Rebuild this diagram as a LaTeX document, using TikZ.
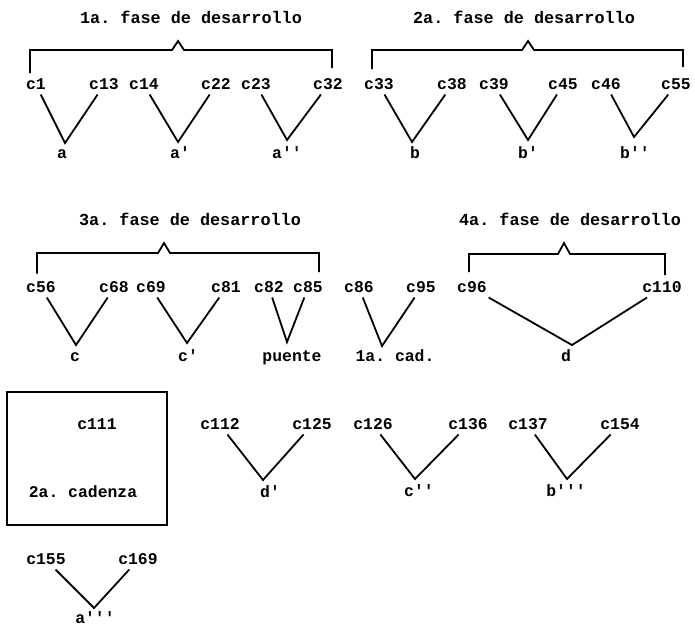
\documentclass[tikz,border=0pt]{standalone}
\usepackage{fontspec}
\setmonofont{Liberation Mono}
\begin{document}
\begin{tikzpicture}[x=1pt,y=-1pt,
  lbl/.style={font=\ttfamily\bfseries\fontsize{16.4}{18}\selectfont, inner sep=1pt, outer sep=1.5pt, text height=11pt, text depth=3pt},
  ttl/.style={font=\ttfamily\bfseries\fontsize{16.8}{18}\selectfont, inner sep=1pt},
  arm/.style={line width=1.8pt, line join=miter},
  brk/.style={line width=1.8pt, line join=miter}]
\useasboundingbox (0,0) rectangle (695,629);

% titles
\node[ttl] (t1) at (191,17) {1a. fase de desarrollo};
\node[ttl] (t2) at (524,17) {2a. fase de desarrollo};
\node[ttl] (t3) at (190,219) {3a. fase de desarrollo};
\node[ttl] (t4) at (570,219) {4a. fase de desarrollo};

% row 1 labels
\node[lbl] (c1) at (36,85) {c1};
\node[lbl] (c13) at (104,85) {c13};
\node[lbl] (c14) at (144,85) {c14};
\node[lbl] (c22) at (216,85) {c22};
\node[lbl] (c23) at (256,85) {c23};
\node[lbl] (c32) at (328,85) {c32};
\node[lbl] (c33) at (379,85) {c33};
\node[lbl] (c38) at (452,85) {c38};
\node[lbl] (c39) at (494,85) {c39};
\node[lbl] (c45) at (563,85) {c45};
\node[lbl] (c46) at (606,85) {c46};
\node[lbl] (c55) at (676,85) {c55};

\node[lbl] (a) at (62,154) {a};
\node[lbl] (a1) at (180,154) {a'};
\node[lbl] (a2) at (287,154) {a''};
\node[lbl] (b) at (415,154) {b};
\node[lbl] (b1) at (528,154) {b'};
\node[lbl] (b2) at (635,154) {b''};

\coordinate (va) at (65,143);
\coordinate (va1) at (178,142);
\coordinate (va2) at (287,140);
\coordinate (vb) at (412,142);
\coordinate (vb1) at (528,140);
\coordinate (vb2) at (634,137);

\draw[arm] (c1) -- (va) -- (c13);
\draw[arm] (c14) -- (va1) -- (c22);
\draw[arm] (c23) -- (va2) -- (c32);
\draw[arm] (c33) -- (vb) -- (c38);
\draw[arm] (c39) -- (vb1) -- (c45);
\draw[arm] (c46) -- (vb2) -- (c55);

\coordinate (p1) at (178,41);
\coordinate (p2) at (528,41);
\draw[brk] ([xshift=-6pt,yshift=2.5pt]c1.north) |- ([xshift=-6pt,yshift=-9pt]p1) -- (p1) -- ++(6,9) -| ([xshift=4pt,yshift=7.5pt]c32.north);
\draw[brk] ([xshift=-7pt,yshift=6.5pt]c33.north) |- ([xshift=-6pt,yshift=-9pt]p2) -- (p2) -- ++(6,9) -| ([xshift=7pt,yshift=8.5pt]c55.north);

% row 3
\node[lbl] (c56) at (41,288) {c56};
\node[lbl] (c68) at (114,288) {c68};
\node[lbl] (c69) at (151,288) {c69};
\node[lbl] (c81) at (226,288) {c81};
\node[lbl] (c82) at (269,288) {c82};
\node[lbl] (c85) at (308,288) {c85};
\node[lbl] (c86) at (359,288) {c86};
\node[lbl] (c95) at (421,288) {c95};
\node[lbl] (c96) at (472,288) {c96};
\node[lbl] (c110) at (662,288) {c110};

\node[lbl] (c) at (75,357) {c};
\node[lbl] (c1p) at (188,357) {c'};
\node[lbl] (puente) at (292,357) {puente};
\node[lbl] (cad1) at (395,357) {1a. cad.};
\node[lbl] (d) at (566,357) {d};

\coordinate (vc) at (76,345);
\coordinate (vc1) at (187,343);
\coordinate (vp) at (287,342);
\coordinate (vcad) at (382,346);
\coordinate (vd) at (572,345);

\draw[arm] (c56) -- (vc) -- (c68);
\draw[arm] (c69) -- (vc1) -- (c81);
\draw[arm] (c82) -- (vp) -- (c85);
\draw[arm] (c86) -- (vcad) -- (c95);
\draw[arm] (c96) -- (vd) -- (c110);

\coordinate (p3) at (164,243);
\coordinate (p4) at (564,243);
\draw[brk] ([xshift=-4pt,yshift=5pt]c56.north) |- ([xshift=-6pt,yshift=-10pt]p3) -- (p3) -- ++(6,10) -| ([xshift=11pt,yshift=6.5pt]c85.north);
\draw[brk] ([xshift=-3pt,yshift=6.5pt]c96.north) |- ([xshift=-6pt,yshift=-11pt]p4) -- (p4) -- ++(6,11) -| ([xshift=3pt,yshift=3.5pt]c110.north);

% row 5
\node[draw, line width=1.8pt, minimum width=160pt, minimum height=133pt] (cbox) at (87,458.5) {};
\node[lbl] (c111) at (97,425) {c111};
\node[lbl] (cad2) at (83,493) {2a. cadenza};

\node[lbl] (c112) at (220,425) {c112};
\node[lbl] (c125) at (312,425) {c125};
\node[lbl] (c126) at (373,425) {c126};
\node[lbl] (c136) at (468,425) {c136};
\node[lbl] (c137) at (528,425) {c137};
\node[lbl] (c154) at (620,425) {c154};

\node[lbl] (d1) at (270,493) {d'};
\node[lbl] (c2p) at (419,492) {c''};
\node[lbl] (b3) at (566,492) {b'''};

\coordinate (vd1) at (263,480);
\coordinate (vc2) at (415,479);
\coordinate (vb3) at (567,479);

\draw[arm] (c112) -- (vd1) -- (c125);
\draw[arm] (c126) -- (vc2) -- (c136);
\draw[arm] (c137) -- (vb3) -- (c154);

% row 7
\node[lbl] (c155) at (46,560) {c155};
\node[lbl] (c169) at (138,560) {c169};
\node[lbl] (a3) at (95,619) {a'''};
\coordinate (va3) at (94,608);
\draw[arm] (c155) -- (va3) -- (c169);
\end{tikzpicture}
\end{document}
